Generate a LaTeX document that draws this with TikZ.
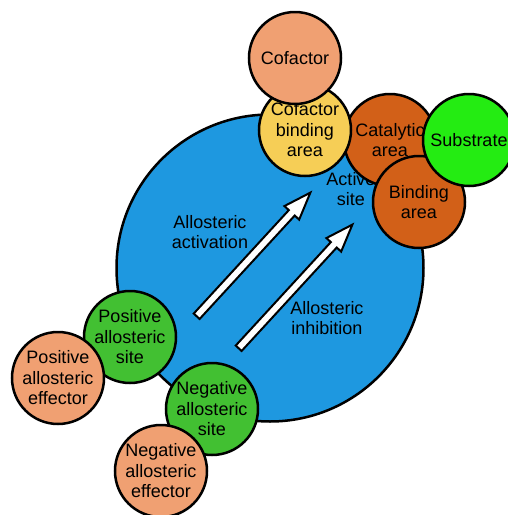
\documentclass[tikz,border=0pt]{standalone}
\usepackage{fontspec}
\setmainfont{Liberation Sans}
\usepackage{xcolor}
\usetikzlibrary{shapes.arrows}
\definecolor{enzymeblue}{RGB}{30,152,224}
\definecolor{effectorpink}{RGB}{240,160,114}
\definecolor{cofactoryellow}{RGB}{246,206,86}
\definecolor{activeorange}{RGB}{210,96,24}
\definecolor{substratelime}{RGB}{36,236,18}
\definecolor{sitegreen}{RGB}{66,192,50}
\tikzset{blob/.style={circle,draw=black,line width=2.5pt,minimum size=92pt,inner sep=0pt,
   align=center,font=\fontsize{18}{20.5}\selectfont},
 caption/.style={align=center,font=\fontsize{18}{20.5}\selectfont},
 shiftarrow/.style={single arrow,draw=black,fill=white,line width=2pt,minimum height=168pt,
   inner sep=3pt,single arrow head extend=6pt,single arrow tip angle=40,anchor=tail,rotate=47.4},
 }

\begin{document}
\begin{tikzpicture}[x=1pt,y=-1pt]
        \useasboundingbox (0,0) rectangle (508,515);
        \node[circle,draw=black,line width=2.5pt,fill=enzymeblue,minimum size=307pt] (enzyme) at (270,268) {};
        \node[caption] (activation) at (210,232) {Allosteric\\activation};
        \node[caption] (inhibition) at (327,318) {Allosteric\\inhibition};
        \node[caption] (active) at (351,189) {Active\\site};
        \node[shiftarrow] (act arrow) at (196,317) {};
        \node[shiftarrow] (inh arrow) at (238,349) {};
        \node[blob,fill=activeorange] (catalytic) at (390,140) {Catalytic\\area};
        \node[blob,fill=activeorange] (binding) at (419,202) {Binding\\area};
        \node[blob,fill=substratelime] (substrate) at (469,140) {Substrate};
        \node[blob,fill=cofactoryellow] (cofbinding) at (305,130) {Cofactor\\binding\\area};
        \node[blob,fill=effectorpink] (cofactor) at (295,58) {Cofactor};
        \node[blob,fill=sitegreen] (possite) at (130,337) {Positive\\allosteric\\site};
        \node[blob,fill=effectorpink] (poseff) at (58,378) {Positive\\allosteric\\effector};
        \node[blob,fill=sitegreen] (negsite) at (212,409) {Negative\\allosteric\\site};
        \node[blob,fill=effectorpink] (negeff) at (161,471) {Negative\\allosteric\\effector};
    \end{tikzpicture}
\end{document}
